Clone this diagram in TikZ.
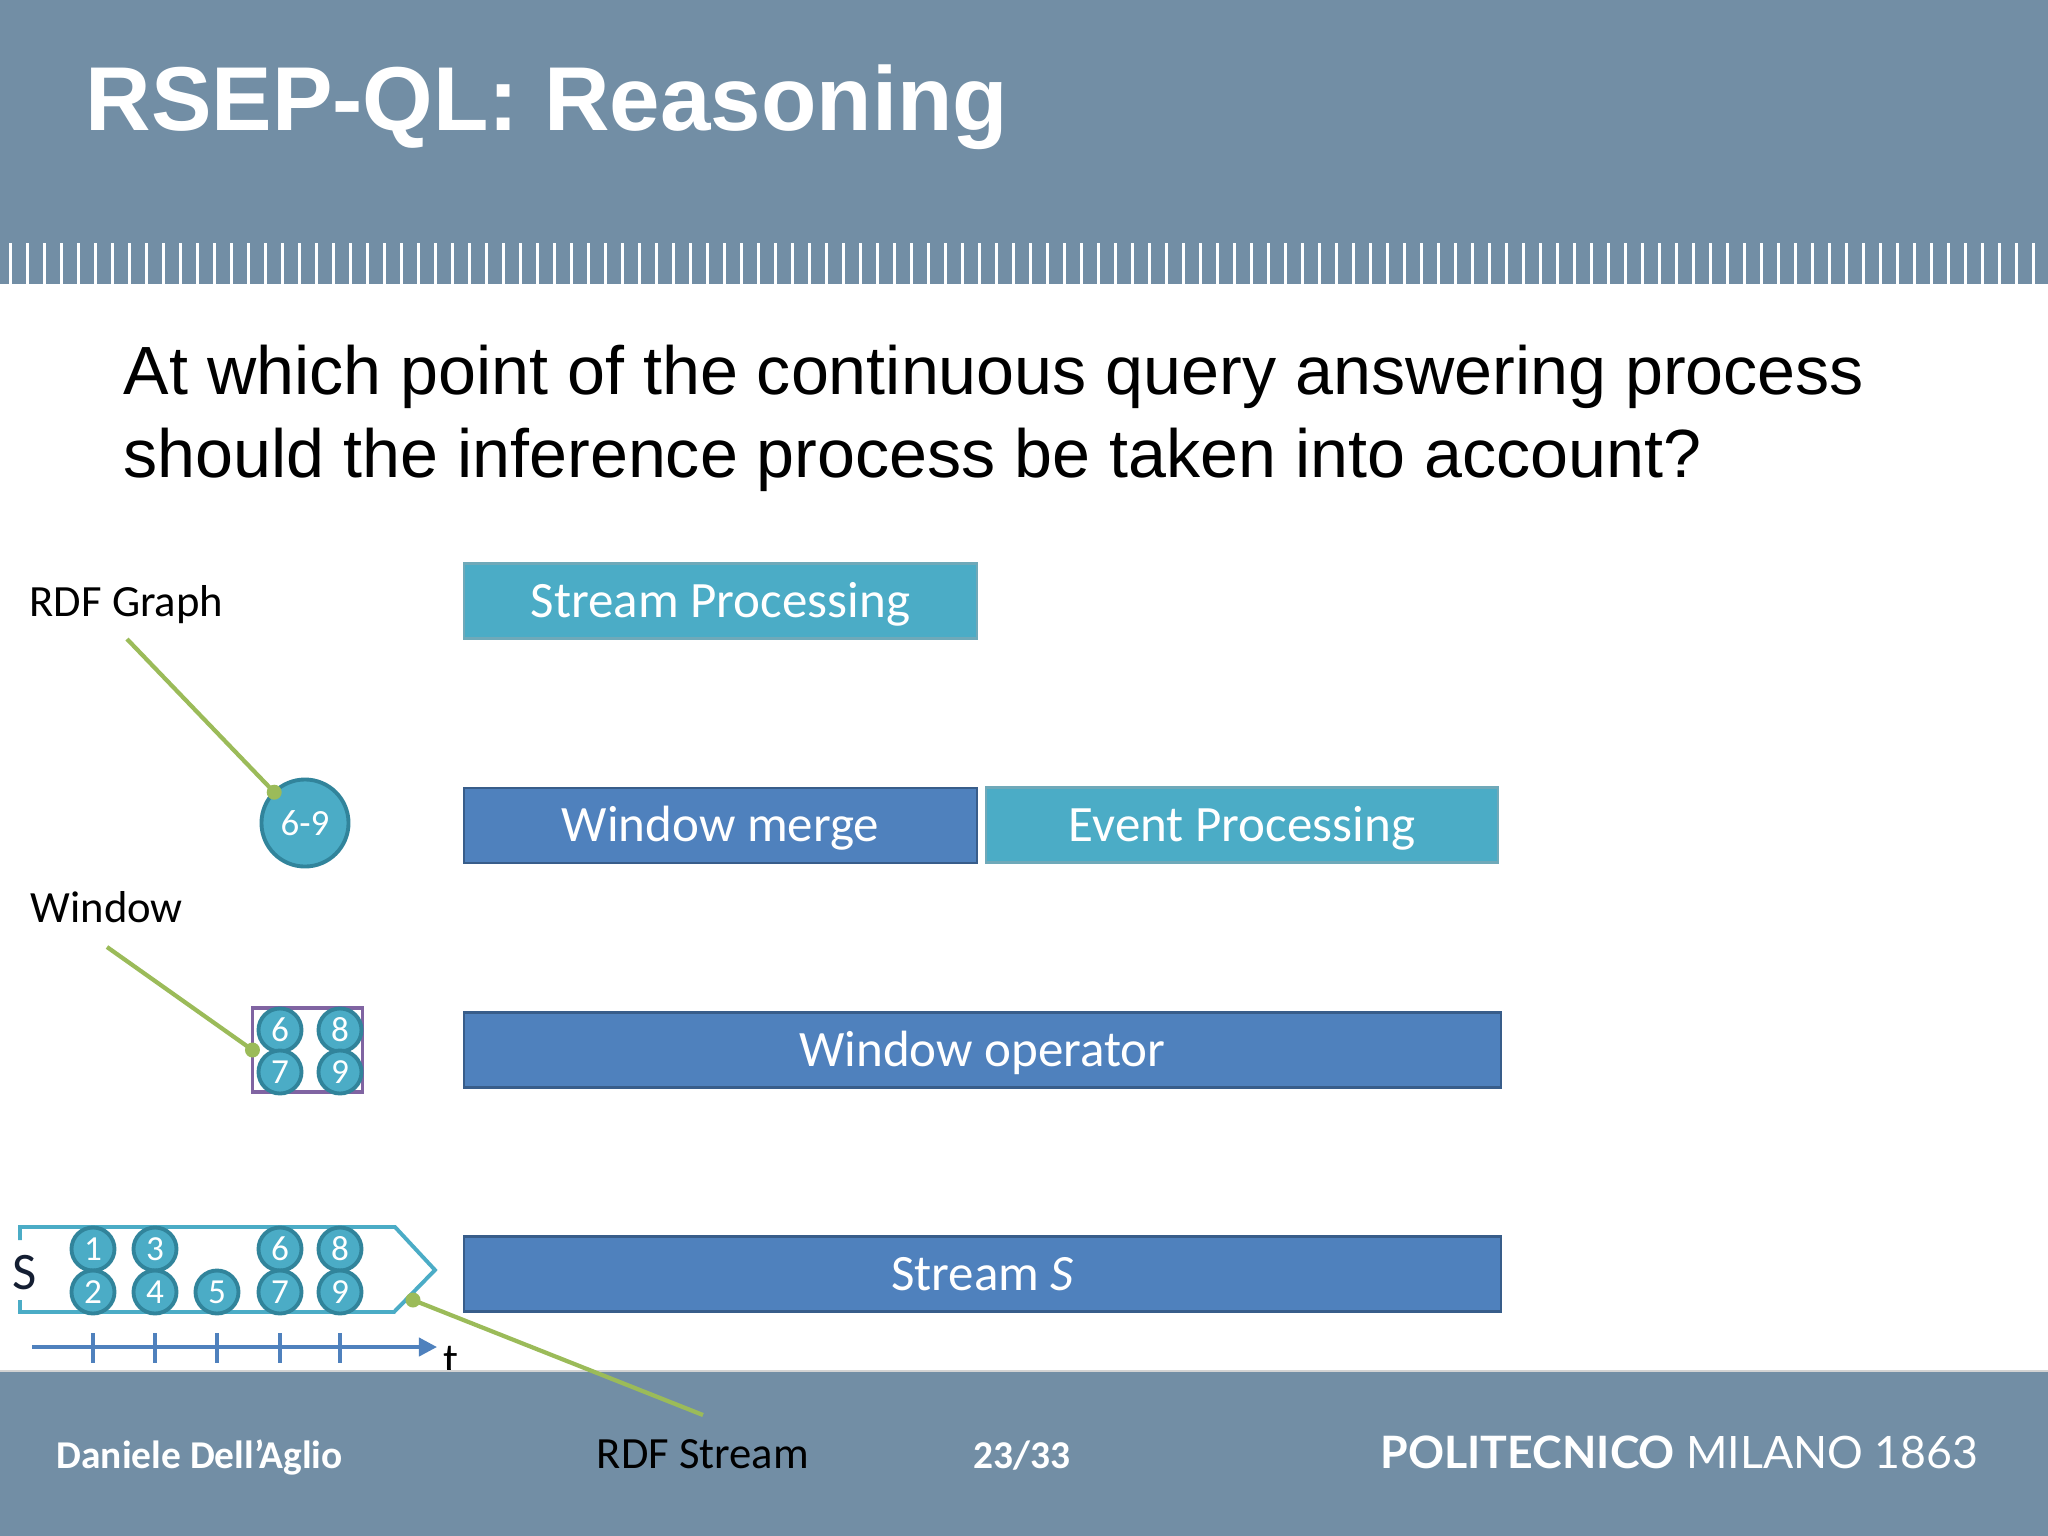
\documentclass[tikz,border=0pt]{standalone}
\usepackage{fontspec}
\setmainfont{Carlito}
\newfontfamily\arialfont{Liberation Sans}
\newfontfamily\latofont{Lato}
\usetikzlibrary{arrows.meta}

\definecolor{bandgray}{RGB}{114,142,165}
\definecolor{tealfill}{RGB}{75,172,198}
\definecolor{tealedge}{RGB}{49,132,155}
\definecolor{bluefill}{RGB}{79,129,189}
\definecolor{blueedge}{RGB}{56,93,138}
\definecolor{calloutgreen}{RGB}{155,187,89}
\definecolor{winpurple}{RGB}{128,100,162}
\definecolor{darkS}{RGB}{20,30,50}

\tikzset{
  opbox/.style={minimum height=0.75cm, inner sep=0pt, outer sep=0pt, text=white,
    font=\fontsize{14.5}{16}\selectfont, text height=9.3pt, text depth=0pt, line width=0.6pt},
  bluebox/.style={opbox, fill=bluefill, draw=blueedge},
  tealbox/.style={opbox, fill=tealfill, draw=tealedge!70},
  tok/.style={circle, fill=tealfill, draw=tealedge, line width=1.1pt, minimum size=0.43cm,
    inner sep=0pt, outer sep=0pt, text=white, font=\fontsize{10}{11}\selectfont},
  callout/.style={draw=calloutgreen, line width=1.2pt},
  calldot/.style={fill=calloutgreen},
  lbl/.style={font=\fontsize{12.7}{14}\selectfont, inner sep=0pt, anchor=base west},
  timeline/.style={draw=bluefill, line width=1.1pt},
  footertext/.style={inner sep=0pt, text=white, font=\bfseries\fontsize{11.2}{13}\selectfont},
}

\begin{document}
\begin{tikzpicture}[x=0.01cm, y=-0.01cm]
  \useasboundingbox (0,0) rectangle (2048,1536);
  \fill[white] (0,0) rectangle (2048,1536);

  % header
  \fill[bandgray] (0,0) rectangle (2048,284);
  \foreach \k in {0,...,119}
    \fill[white] ({9.2+17*\k},243) rectangle ++(3,41);
  \node[anchor=base west, inner sep=0pt, text=white, font=\arialfont\bfseries\fontsize{25.8}{30}\selectfont] (title) at (85,130) {RSEP-QL: Reasoning};
  \node[anchor=base west, inner sep=0pt, font=\arialfont\fontsize{19.4}{23.6}\selectfont] (q1) at (123,394) {At which point of the continuous query answering process};
  \node[anchor=base west, inner sep=0pt, font=\arialfont\fontsize{19.4}{23.6}\selectfont] (q2) at (123,477) {should the inference process be taken into account?};

  % operator boxes
  \node[tealbox, minimum width=5.13cm] (spbox) at (720.5,601) {Stream Processing};
  \node[bluebox, minimum width=5.13cm] (wmbox) at (720.5,825.5) {Window merge};
  \node[tealbox, minimum width=5.12cm] (epbox) at (1242,825) {Event Processing};
  \node[bluebox, minimum width=10.37cm] (wobox) at (982.5,1050) {Window operator};
  \node[bluebox, minimum width=10.37cm] (ssbox) at (982.5,1274) {Stream \textit{S}};

  % rdf graph
  \node[lbl] (lblgraph) at (29,616) {RDF Graph};
  \node[tok, minimum size=0.87cm, font=\fontsize{10.5}{12}\selectfont] (g69) at (305,823) {6-9};
  \coordinate (gstart) at (127,639);
  \draw[callout] (gstart) -- (g69.135);
  \fill[calldot] (g69.135) circle (0.075cm);

  % window
  \node[lbl] (lblwin) at (30,922) {Window};
  \node[draw=winpurple, line width=1.1pt, minimum width=1.1cm, minimum height=0.84cm, inner sep=0pt, outer sep=0pt] (win) at (307.5,1050) {};
  \node[tok] (w6) at (280,1030) {6};
  \node[tok] (w8) at (340,1030) {8};
  \node[tok] (w7) at (280,1072) {7};
  \node[tok] (w9) at (340,1072) {9};
  \coordinate (wstart) at (107,947);
  \draw[callout] (wstart) -- (win.west);
  \fill[calldot] (win.west) circle (0.075cm);

  % stream
  \draw[draw=tealfill, line width=1.1pt] (20,1240) -- (20,1227) -- (395,1227) -- (435,1270) -- (394,1312) -- (20,1312) -- (20,1300);
  \node[lbl, text=darkS, font=\fontsize{15}{17}\selectfont] (lbls) at (12,1289) {S};
  \node[tok] (s1) at (93,1249) {1};
  \node[tok] (s3) at (155,1249) {3};
  \node[tok] (s6) at (280,1249) {6};
  \node[tok] (s8) at (340,1249) {8};
  \node[tok] (s2) at (93,1292) {2};
  \node[tok] (s4) at (155,1292) {4};
  \node[tok] (s5) at (217,1292) {5};
  \node[tok] (s7) at (280,1292) {7};
  \node[tok] (s9) at (340,1292) {9};
  \draw[timeline, -{Triangle[length=0.18cm, width=0.18cm]}] (32,1347) -- (437,1347);
  \foreach \x in {93,155,217,280,340}
    \draw[timeline] (\x,1333) -- (\x,1363);
  \node[lbl] (lblt) at (443,1374) {t};

  % footer
  \fill[bandgray] (0,1372) rectangle (2048,1536);
  \draw[gray!35, line width=0.5pt] (0,1371) -- (2048,1371);
  \node[footertext, anchor=base west] (author) at (56,1468) {Daniele Dell’Aglio};
  \node[footertext, anchor=base] (pageno) at (1022,1468) {23/33};
  \node[anchor=base east, inner sep=0pt, text=white, font=\latofont\fontsize{12.7}{14}\selectfont] (polimi) at (1979,1468) {\textbf{POLITECNICO} MILANO 1863};

  \coordinate (sdot) at (413,1300);
  \coordinate (send) at (703,1415);
  \draw[callout] (sdot) -- (send);
  \fill[calldot] (sdot) circle (0.075cm);
  \node[lbl, anchor=base] (lblstream) at (703,1468) {RDF Stream};
\end{tikzpicture}
\end{document}
